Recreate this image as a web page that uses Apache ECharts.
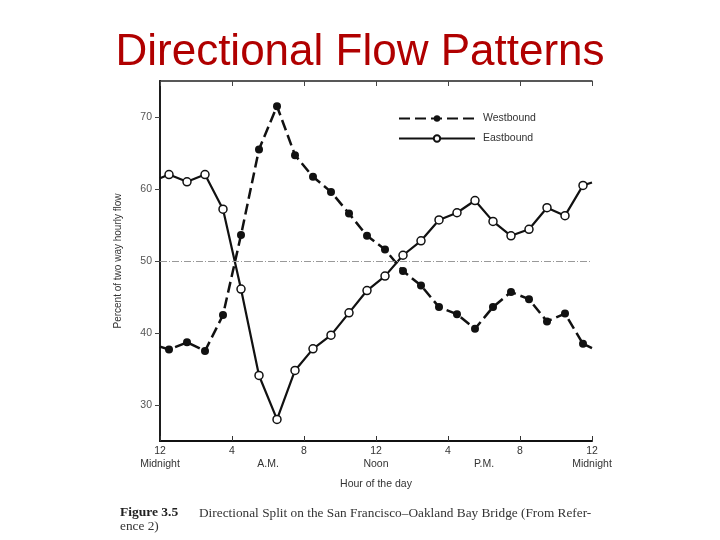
<!DOCTYPE html>
<html><head><meta charset="utf-8">
<script src="https://cdn.jsdelivr.net/npm/echarts@6/dist/echarts.min.js"></script>
<style>html,body{margin:0;padding:0;background:#fff}#c{width:720px;height:540px}</style>
</head><body><div id="c"></div>
<script>
// Hour midpoints (hours after midnight) at which each value is plotted
const hours = [0.5,1.5,2.5,3.5,4.5,5.5,6.5,7.5,8.5,9.5,10.5,11.5,12.5,13.5,14.5,15.5,16.5,17.5,18.5,19.5,20.5,21.5,22.5,23.5];
const westbound = [37.7,38.7,37.5,42.5,53.6,65.5,71.5,64.7,61.7,59.6,56.6,53.5,51.6,48.6,46.6,43.6,42.6,40.6,43.6,45.7,44.7,41.6,42.7,38.5];
const eastbound = [62.0,61.0,62.0,57.2,46.1,34.1,28.0,34.8,37.8,39.7,42.8,45.9,47.9,50.8,52.8,55.7,56.7,58.4,55.5,53.5,54.4,57.4,56.3,60.5];
// Line values where the curves meet the left (midnight) and right (midnight) frame
const westboundEnds = [38.1, 37.9];
const eastboundEnds = [61.5, 60.9];
const edgeHours = [0, 24];
// Axis ticks and labels
const yTicks = [30,40,50,60,70];
const hourTicks = [0,4,8,12,16,20,24];
const hourTickLabels = ['12','4','8','12','4','8','12'];
const periodTicks = [0,6,12,18,24];
const periodLabels = ['Midnight','A.M.','Noon','P.M.','Midnight'];
const splitValue = 50;

function buildData(vals, ends){
  const d = [{value:[edgeHours[0], ends[0]], symbol:'none'}];
  hours.forEach((h,i)=>d.push([h, vals[i]]));
  d.push({value:[edgeHours[1], ends[1]], symbol:'none'});
  return d;
}

const chart = echarts.init(document.getElementById('c'), null, {renderer:'canvas'});
const axisFont = 'Liberation Sans';
chart.setOption({
  animation:false,
  backgroundColor:'#ffffff',
  grid:{left:160, right:128, top:81, bottom:99},
  legend:{
    orient:'vertical', left:393, top:108, itemWidth:76, itemHeight:8, itemGap:9,
    textStyle:{fontFamily:axisFont, fontSize:10.5, color:'#333', padding:[0,0,0,3]},
    data:['Westbound','Eastbound']
  },
  xAxis:[
    {type:'value', position:'bottom', min:0, max:24, interval:4,
     axisLine:{lineStyle:{color:'#111', width:2}},
     axisTick:{show:true, inside:true, length:5, lineStyle:{color:'#333', width:1}},
     axisLabel:{fontFamily:axisFont, fontSize:10.5, color:'#333', margin:5,
       formatter:v=>{const i=hourTicks.indexOf(v); return i>=0?hourTickLabels[i]:'';}},
     splitLine:{show:false},
     name:'Hour of the day', nameLocation:'middle', nameGap:38,
     nameTextStyle:{fontFamily:axisFont, fontSize:10.5, color:'#333'}},
    {type:'value', position:'bottom', min:0, max:24, interval:6,
     axisLine:{show:false}, axisTick:{show:false}, splitLine:{show:false},
     axisLabel:{fontFamily:axisFont, fontSize:10.5, color:'#333', margin:18,
       formatter:v=>{const i=periodTicks.indexOf(v); return i>=0?periodLabels[i]:'';}}},
    {type:'value', position:'top', min:0, max:24, interval:4,
     axisLine:{lineStyle:{color:'#222', width:1.5}},
     axisTick:{show:true, inside:true, length:5, lineStyle:{color:'#444'}},
     axisLabel:{show:false}, splitLine:{show:false}}
  ],
  yAxis:[
    {type:'value', min:25, max:75,
     axisLine:{show:true, lineStyle:{color:'#111', width:2}},
     axisTick:{show:true, length:5, customValues:yTicks, lineStyle:{color:'#444'}},
     axisLabel:{customValues:yTicks, fontFamily:axisFont, fontSize:10.5, color:'#555', margin:8},
     splitLine:{show:false},
     name:'Percent of two way hourly flow', nameLocation:'middle', nameGap:37, nameRotate:90,
     nameTextStyle:{fontFamily:axisFont, fontSize:10, color:'#333'}},
    {type:'value', min:25, max:75, position:'right',
     axisLine:{show:true, lineStyle:{color:'#222', width:1.5}},
     axisTick:{show:true, inside:true, length:5, customValues:yTicks, lineStyle:{color:'#444'}},
     axisLabel:{show:false}, splitLine:{show:false}}
  ],
  series:[
    {name:'Westbound', type:'line', xAxisIndex:0, yAxisIndex:0,
     data:buildData(westbound, westboundEnds),
     symbol:'circle', symbolSize:8,
     lineStyle:{color:'#111', width:2.5, type:[11,5]},
     itemStyle:{color:'#111'},
     markLine:{silent:true, symbol:'none', label:{show:false},
       lineStyle:{color:'#999', width:1, type:[7,2,1,2]},
       data:[{yAxis:splitValue}]},
     z:3},
    {name:'Eastbound', type:'line', xAxisIndex:0, yAxisIndex:0,
     data:buildData(eastbound, eastboundEnds),
     symbol:'circle', symbolSize:8,
     lineStyle:{color:'#111', width:2.2, type:'solid'},
     itemStyle:{color:'#fff', borderColor:'#111', borderWidth:1.5},
     z:4}
  ],
  graphic:[
    {type:'text', left:'center', top:31, style:{text:'Directional Flow Patterns', fontFamily:'Liberation Sans', fontSize:44, fill:'#b00000'}},
    {type:'text', left:120, top:506, style:{text:'Figure 3.5', fontFamily:'Liberation Serif', fontWeight:'bold', fontSize:13.5, fill:'#222'}},
    {type:'text', left:199, top:507, style:{text:'Directional Split on the San Francisco\u2013Oakland Bay Bridge (From Refer-', fontFamily:'Liberation Serif', fontSize:13.3, fill:'#333'}},
    {type:'text', left:120, top:520, style:{text:'ence 2)', fontFamily:'Liberation Serif', fontSize:13.3, fill:'#333'}}
  ]
});
</script></body></html>
